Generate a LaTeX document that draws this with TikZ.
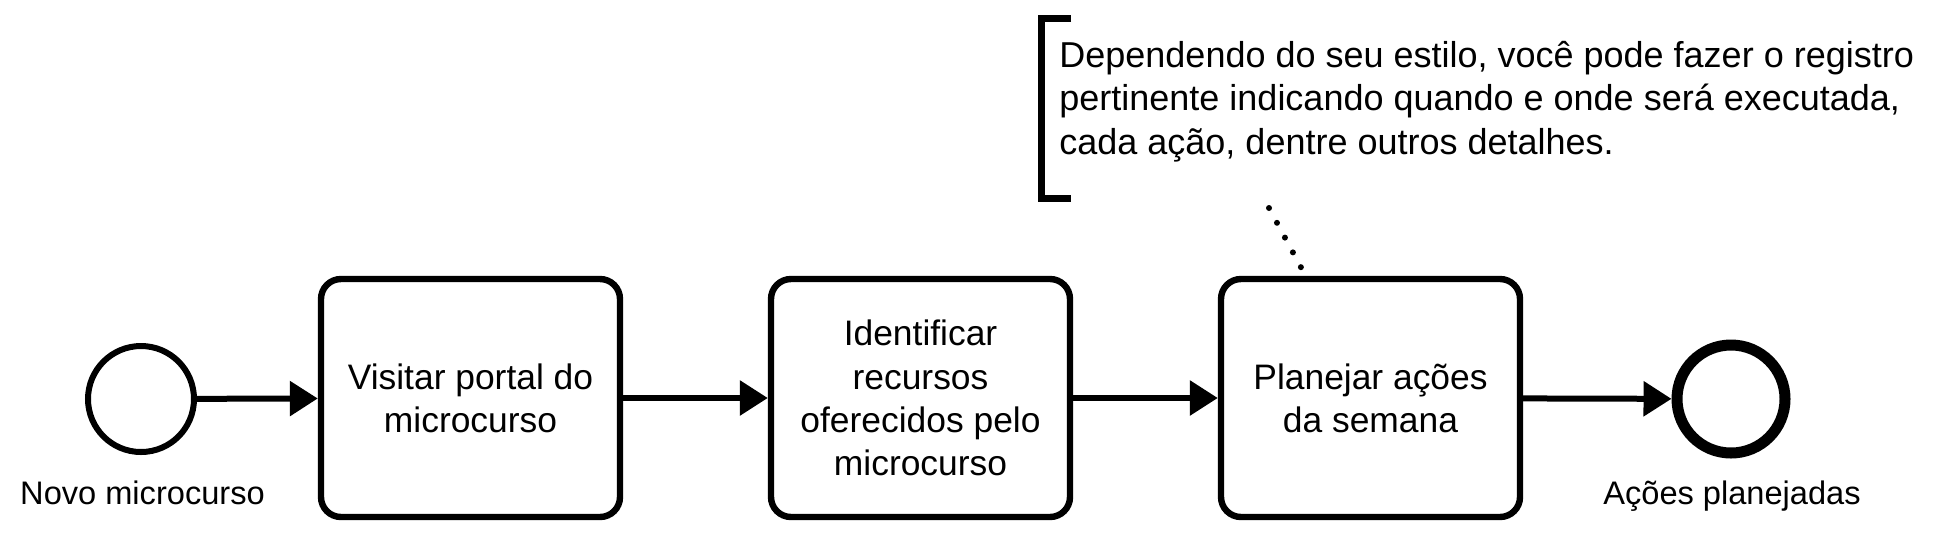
\documentclass[tikz,border=0pt]{standalone}
\usepackage{fontspec}
\setmainfont{Liberation Sans}
\usetikzlibrary{arrows.meta,positioning}

\tikzset{
  task/.style={draw, line width=3.2pt, fill=white, rounded corners=10pt,
    minimum width=149.5pt, minimum height=119pt, align=center,
    font=\fontsize{17.7}{21.6}\selectfont},
  startevent/.style={draw, circle, line width=3pt, fill=white, minimum size=106pt*0.5},
  endevent/.style={draw, circle, line width=5.5pt, fill=white, minimum size=108pt*0.5},
  evlabel/.style={anchor=base, inner sep=0pt, font=\fontsize{16.3}{19}\selectfont},
  seqflow/.style={line width=3pt, -{Triangle[length=14pt,width=17pt]}},
  assocline/.style={line width=3pt, line cap=round, dash pattern=on 0pt off 8.4pt},
  bracket/.style={line width=3.5pt},
}

\begin{document}
\begin{tikzpicture}[x=0.5pt, y=-0.5pt]
  \useasboundingbox (0,0) rectangle (1959,537);
  % eventos
  \node[startevent] (start) at (141,399) {};
  \node[evlabel] (start_lbl) at (142.5,504) {Novo microcurso};
  \node[endevent] (end) at (1731,399) {};
  \node[evlabel] (end_lbl) at (1732,504) {Ações planejadas};
  % tarefas
  \node[task] (visit) at (470.5,398) {Visitar portal do\\microcurso};
  \node[task] (ident) at (920.5,398) {Identificar\\recursos\\oferecidos pelo\\microcurso};
  \node[task] (plan) at (1370.5,398) {Planejar ações\\da semana};
  \draw[seqflow] (start) -- (visit);
  \draw[seqflow] (visit) -- (ident);
  \draw[seqflow] (ident) -- (plan);
  \draw[seqflow] (plan) -- (end);
  % anotacao
  \draw[bracket] (1071,18) -- (1041.5,18) -- (1041.5,198) -- (1071,198);
  \node[anchor=north west, inner sep=0pt, align=left,
    font=\fontsize{18}{21.6}\selectfont] (note) at (1059,41)
    {Dependendo do seu estilo, você pode fazer o registro\\
     pertinente indicando quando e onde será executada,\\
     cada ação, dentre outros detalhes.};
  \coordinate (assoc) at (1269,208);
  \draw[assocline] (assoc) -- (plan.118);
\end{tikzpicture}
\end{document}
